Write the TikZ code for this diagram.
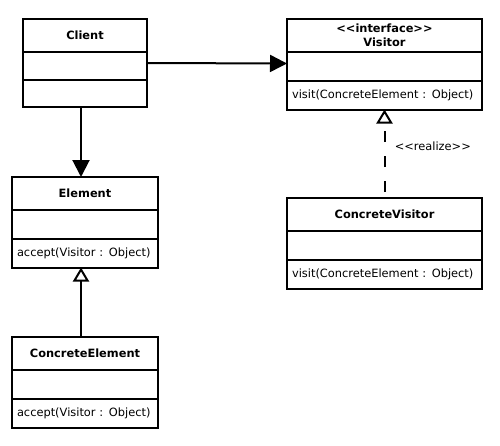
\documentclass[tikz,border=0pt]{standalone}
\usepackage{fontspec}
\setmainfont{DejaVu Sans}
\usetikzlibrary{positioning,arrows.meta}
\tikzstyle{head} = [draw, rectangle, outer sep=0pt, minimum height=33pt, align=center, font=\fontsize{11.4}{14}\selectfont\bfseries]
\tikzstyle{attrs} = [draw, rectangle, outer sep=0pt, minimum height=29pt]
\tikzstyle{ops} = [draw, rectangle, outer sep=0pt, minimum height=28.5pt, inner xsep=5pt, align=left]
\tikzstyle{uses} = [-{Triangle[length=17pt, width=17pt]}]
\tikzstyle{extends} = [-{Triangle[open, length=14pt, width=16pt]}]

\begin{document}
\begin{tikzpicture}[x=1pt, y=-1pt, line width=2pt, font=\fontsize{11.4}{14}\selectfont]
    \useasboundingbox (0,0) rectangle (500,445);

    % client
    \node [head, minimum width=124pt, anchor=north west] (client) at (23,19) {Client};
    \node [attrs, minimum width=124pt, minimum height=28pt, below=0pt of client] (client attrs) {};
    \node [attrs, minimum width=124pt, minimum height=27pt, below=0pt of client attrs] (client ops) {};

    % visitor side
    \node [head, minimum width=195pt, anchor=north west] (visitor) at (287,19) {<{}<interface>{}>\\Visitor};
    \node [attrs, minimum width=195pt, below=0pt of visitor] (visitor attrs) {};
    \node [ops, text width=185pt, below=0pt of visitor attrs] (visitor ops) {visit(ConcreteElement : Object)};

    \node [head, minimum width=195pt, anchor=north west] (concrete visitor) at (287,198) {ConcreteVisitor};
    \node [attrs, minimum width=195pt, below=0pt of concrete visitor] (concrete visitor attrs) {};
    \node [ops, text width=185pt, below=0pt of concrete visitor attrs] (concrete visitor ops) {visit(ConcreteElement : Object)};

    % element side
    \node [head, minimum width=146pt, anchor=north west] (element) at (12,177) {Element};
    \node [attrs, minimum width=146pt, below=0pt of element] (element attrs) {};
    \node [ops, text width=136pt, below=0pt of element attrs] (element ops) {accept(Visitor : Object)};

    \node [head, minimum width=146pt, anchor=north west] (concrete element) at (12,337) {ConcreteElement};
    \node [attrs, minimum width=146pt, below=0pt of concrete element] (concrete element attrs) {};
    \node [ops, text width=136pt, below=0pt of concrete element attrs] (concrete element ops) {accept(Visitor : Object)};

    \draw [uses] ([yshift=3pt]client attrs.east) -- ([yshift=3pt]visitor attrs.west);
    \draw [uses] ([xshift=-4pt]client ops.south) -- ([xshift=-4pt]element.north);
    \draw [extends] ([xshift=-4pt]concrete element.north) -- ([xshift=-4pt]element ops.south);
    \draw [extends, dash pattern=on 11pt off 14pt, dash phase=19pt] (concrete visitor.north)
        -- node [right, pos=0.58, xshift=6pt] {<{}<realize>{}>} (visitor ops.south);

\end{tikzpicture}
\end{document}
